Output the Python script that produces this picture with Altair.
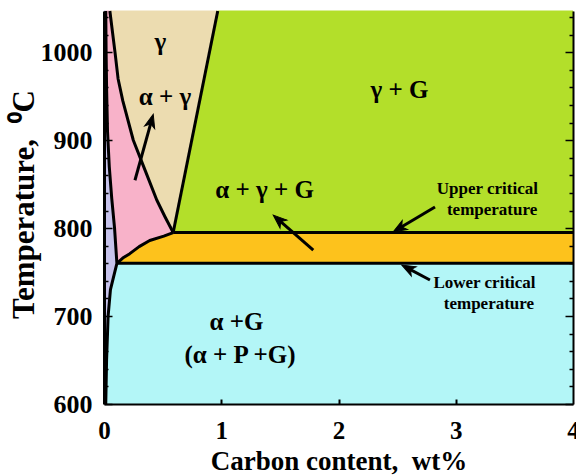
import math
import altair as alt
import pandas as pd

# ---------------- data: phase boundaries (carbon wt%, temperature degC) -------------
alpha_low_x = [0.015, 0.022, 0.035, 0.055, 0.11]
alpha_low_t = [600, 650, 700, 730, 760]
alpha_up_x = [0.11, 0.09, 0.066, 0.045, 0.03, 0.022, 0.018, 0.015]
alpha_up_t = [760, 800, 834, 870, 910, 960, 1000, 1047]
a3_x = [0.59, 0.52, 0.45, 0.35, 0.25, 0.16, 0.12, 0.094, 0.05]
a3_t = [795, 813, 832, 866, 900, 945, 970, 1000, 1047]
acm_x = [0.59, 0.97]
acm_t = [795, 1047]
eut_x = [0.11, 0.16, 0.22, 0.30, 0.39, 0.51, 0.59]
eut_t = [760, 766, 771, 779, 786, 791, 795]
upper_x = [0.59, 4.0]
upper_t = [795, 795]
lower_x = [0.11, 4.0]
lower_t = [760, 760]

X_MIN, X_MAX = 0.0, 4.0
T_MIN, T_MAX = 600, 1047
x_ticks = [0, 1, 2, 3, 4]
y_ticks = [600, 700, 800, 900, 1000]
y_minor = list(range(600, 1041, 20))

region_names = ["α", "α+G", "α+γ+G", "α+γ", "γ", "γ+G"]
region_colors = ["#c7c3eb", "#b3f6f7", "#fdc21c", "#f8b2c9", "#ecdcb0", "#b3df2a"]

label_text = ["γ", "α + γ", "γ + G", "α + γ + G", "α +G", "(α + P +G)"]
label_x = [0.48, 0.52, 2.52, 1.37, 1.13, 1.16]
label_t = [1012, 949, 957, 843, 693, 656]

note_text = ["Upper critical", "temperature", "Lower critical", "temperature"]
note_x = [3.27, 3.31, 3.245, 3.283]
note_t = [844.5, 820.5, 737.5, 713.5]

arrow_tail_x = [0.264, 1.785, 2.823, 2.78]
arrow_tail_t = [854.5, 775, 824, 741]
arrow_head_x = [0.42, 1.444, 2.467, 2.54]
arrow_head_t = [929.5, 814.8, 795.8, 758]

# ---------------- geometry helpers ----------------
W, H = 469, 393
FONT = "'Liberation Serif', 'Times New Roman', Times, serif"


def pts(xs, ts):
    return list(zip(xs, ts))


alpha_low = pts(alpha_low_x, alpha_low_t)
alpha_up = pts(alpha_up_x, alpha_up_t)
a3 = pts(a3_x, a3_t)
acm = pts(acm_x, acm_t)
eut = pts(eut_x, eut_t)

polys = [
    [(X_MIN, T_MIN)] + alpha_low + alpha_up[1:] + [(X_MIN, T_MAX)],
    alpha_low + [(X_MAX, lower_t[0]), (X_MAX, T_MIN)],
    eut + [(X_MAX, upper_t[0]), (X_MAX, lower_t[0])],
    alpha_up + a3[::-1] + eut[::-1][1:],
    a3 + [acm[-1]],
    acm + [(X_MAX, T_MAX), (X_MAX, upper_t[0])],
]

xs = alt.Scale(domain=[X_MIN, X_MAX], nice=False, zero=False)
ys = alt.Scale(domain=[T_MIN, T_MAX], nice=False, zero=False)

tick_len = {"condition": {"test": "datum.value % 100 === 0", "value": 8}, "value": 4}

x_axis_main = alt.Axis(
    orient="bottom", values=x_ticks, format="d", ticks=False, tickSize=0,
    labelFont=FONT, labelFontSize=25, labelFontWeight="bold", labelColor="black",
    labelBaseline="alphabetic", labelPadding=34, labelFlush=False,
    domainColor="black", domainWidth=2, grid=False,
    title="Carbon content,\u00a0 wt%", titleFont=FONT, titleFontSize=27,
    titleFontWeight="bold", titleColor="black", titleBaseline="alphabetic",
    titleY=65, zindex=1,
)
y_axis_main = alt.Axis(
    orient="left", values=y_ticks, format="d", ticks=False, tickSize=0,
    labelFont=FONT, labelFontSize=26, labelFontWeight="bold", labelColor="black",
    labelPadding=12, domainColor="black", domainWidth=3, grid=False,
    title="Temperature,\u00a0\u00a0⁰C", titleFont=FONT, titleFontSize=31,
    titleFontWeight="bold", titleColor="black", titleBaseline="alphabetic",
    titleX=-71, titleY=193, titleAlign="center", zindex=1,
)
x_axis_ticks = alt.Axis(
    orient="top", offset=-H, values=[1, 2, 3], labels=False, domain=False,
    tickSize=5, tickWidth=2, tickColor="black", grid=False, title=None, zindex=1,
)
y_axis_inner = alt.Axis(
    orient="right", offset=-W, values=y_minor, labels=False, domain=False,
    tickSize=tick_len, tickWidth=1.5, tickColor="black", grid=False, title=None, zindex=1,
)
y_axis_right = alt.Axis(
    orient="left", offset=-W, values=y_minor, labels=False, domain=True,
    domainColor="black", domainWidth=2, tickSize=tick_len, tickWidth=1.5,
    tickColor="black", grid=False, title=None, zindex=1,
)

layers = []

# region fills
for k, (name, col, poly) in enumerate(zip(region_names, region_colors, polys)):
    df = pd.DataFrame({"x": [p[0] for p in poly], "t": [p[1] for p in poly],
                       "i": list(range(len(poly))), "region": name})
    layers.append(
        alt.Chart(df).mark_line(fill=col, stroke=col, strokeWidth=1).encode(
            x=alt.X("x:Q", scale=xs, axis=x_axis_main if k == 0 else None),
            y=alt.Y("t:Q", scale=ys, axis=y_axis_main if k == 0 else None),
            order="i:Q",
        )
    )

# boundary lines
line_sets = [
    alpha_low + alpha_up[1:],
    a3,
    acm,
    eut,
    pts(upper_x, upper_t),
    pts(lower_x, lower_t),
]
rows = []
for s, seg in enumerate(line_sets):
    for i, (x, t) in enumerate(seg):
        rows.append({"seg": s, "i": i, "x": x, "t": t})
lines_df = pd.DataFrame(rows)
layers.append(
    alt.Chart(lines_df).mark_line(color="black", strokeWidth=3, strokeJoin="round").encode(
        x=alt.X("x:Q", scale=xs, axis=x_axis_ticks),
        y=alt.Y("t:Q", scale=ys, axis=y_axis_inner),
        detail="seg:N",
        order="i:Q",
    )
)

# arrows
sx = W / (X_MAX - X_MIN)
sy = H / (T_MAX - T_MIN)
shaft_rows, head_rows = [], []
for a, (tx, tt, hx, ht) in enumerate(zip(arrow_tail_x, arrow_tail_t, arrow_head_x, arrow_head_t)):
    dx = (hx - tx) * sx
    dy = (ht - tt) * sy
    L = math.hypot(dx, dy)
    back = 6.0 / L
    ex = hx - (hx - tx) * back
    et = ht - (ht - tt) * back
    shaft_rows.append({"a": a, "i": 0, "x": tx, "t": tt})
    shaft_rows.append({"a": a, "i": 1, "x": ex, "t": et})
    ang = math.degrees(math.atan2(dx, dy)) % 360
    head_rows.append({"x": hx, "t": ht, "ang": ang})

layers.append(
    alt.Chart(pd.DataFrame(shaft_rows)).mark_line(color="black", strokeWidth=3).encode(
        x=alt.X("x:Q", scale=xs, axis=None),
        y=alt.Y("t:Q", scale=ys, axis=y_axis_right),
        detail="a:N",
        order="i:Q",
    )
)
layers.append(
    alt.Chart(pd.DataFrame(head_rows)).mark_point(
        shape="M0,0L-0.85,2.2L0,1.6L0.85,2.2Z", filled=True, size=150,
        color="black", opacity=1, strokeWidth=1, stroke="black",
    ).encode(
        x=alt.X("x:Q", scale=xs, axis=None),
        y=alt.Y("t:Q", scale=ys, axis=None),
        angle=alt.Angle("ang:Q", scale=None),
    )
)

# labels
layers.append(
    alt.Chart(pd.DataFrame({"txt": label_text, "x": label_x, "t": label_t})).mark_text(
        font=FONT, fontSize=25, fontWeight="bold", color="black",
        align="center", baseline="middle",
    ).encode(
        x=alt.X("x:Q", scale=xs, axis=None),
        y=alt.Y("t:Q", scale=ys, axis=None),
        text="txt:N",
    )
)
layers.append(
    alt.Chart(pd.DataFrame({"txt": note_text, "x": note_x, "t": note_t})).mark_text(
        font=FONT, fontSize=17, fontWeight="bold", color="black",
        align="center", baseline="middle",
    ).encode(
        x=alt.X("x:Q", scale=xs, axis=None),
        y=alt.Y("t:Q", scale=ys, axis=None),
        text="txt:N",
    )
)

chart = (
    alt.layer(*layers)
    .resolve_axis(x="independent", y="independent")
    .properties(
        width=W, height=H,
        padding={"left": 104, "top": 11, "right": 3, "bottom": 72},
        autosize=alt.AutoSizeParams(type="none"),
        background="white",
    )
    .configure_view(strokeWidth=0)
)

chart.save("out.html", embed_options={"renderer": "svg", "actions": False})
